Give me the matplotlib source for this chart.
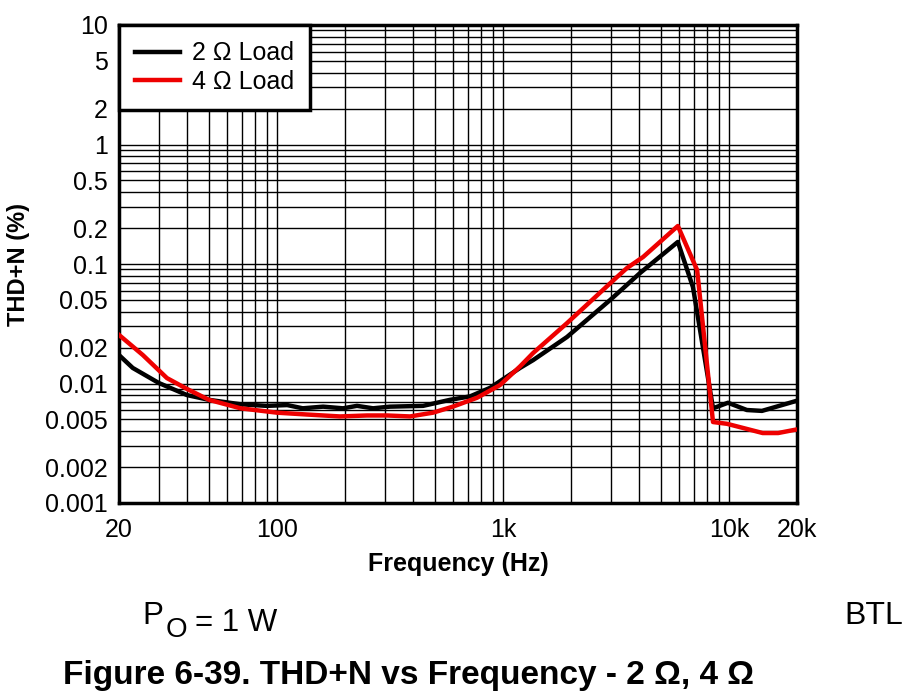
import numpy as np
import matplotlib.pyplot as plt
import matplotlib as mpl
from matplotlib.ticker import FixedLocator, FixedFormatter, LogLocator, NullFormatter

mpl.rcParams['font.family'] = ['Liberation Sans', 'DejaVu Sans']

# 2 ohm load
freq_2 = [20, 23, 30, 40, 50, 69, 90, 111, 130, 160, 196, 226, 266, 316, 443, 583, 715,
          877, 1190, 1360, 1920, 2980, 4040, 5940, 6930, 8500, 9900, 12000, 14000, 19600]
thd_2 = [0.0173, 0.0135, 0.0101, 0.0080, 0.0073, 0.0067, 0.0065, 0.0066, 0.0062, 0.0064,
         0.0062, 0.0065, 0.0062, 0.0064, 0.0065, 0.0073, 0.0078, 0.0092, 0.0135, 0.0157,
         0.0245, 0.050, 0.084, 0.153, 0.064, 0.0062, 0.0069, 0.0060, 0.0059, 0.0071]

# 4 ohm load
freq_4 = [20, 25.5, 32.6, 40, 50, 69, 100, 136, 190, 250, 307, 388, 490, 600, 768, 970,
          1190, 1360, 1920, 3200, 3540, 4170, 5940, 7230, 8500, 9800, 14100, 16500, 19600]
thd_4 = [0.0255, 0.0173, 0.0111, 0.0090, 0.0073, 0.0062, 0.0057, 0.0055, 0.0053, 0.0054,
         0.0054, 0.0053, 0.0057, 0.0064, 0.0076, 0.0097, 0.0139, 0.018, 0.032, 0.078,
         0.0926, 0.1145, 0.208, 0.089, 0.00476, 0.0046, 0.00385, 0.00385, 0.0041]

x_ticks = [20, 100, 1000, 10000, 20000]
x_labels = ['20', '100', '1k', '10k', '20k']
y_ticks = [10, 5, 2, 1, 0.5, 0.2, 0.1, 0.05, 0.02, 0.01, 0.005, 0.002, 0.001]
y_labels = ['10', '5', '2', '1', '0.5', '0.2', '0.1', '0.05', '0.02', '0.01', '0.005', '0.002', '0.001']

fig = plt.figure(figsize=(9.11, 6.94), dpi=100)
ax = fig.add_axes([119 / 911, 1 - 503 / 694, 678 / 911, 478 / 694])

ax.plot(freq_2, thd_2, color='black', lw=3.2, label='2 \u03a9 Load', zorder=3)
ax.plot(freq_4, thd_4, color='#ee0000', lw=3.2, label='4 \u03a9 Load', zorder=3)

ax.set_xscale('log')
ax.set_yscale('log')
ax.set_xlim(20, 20000)
ax.set_ylim(0.001, 10)

ax.xaxis.set_major_locator(FixedLocator(x_ticks))
ax.xaxis.set_major_formatter(FixedFormatter(x_labels))
ax.yaxis.set_major_locator(FixedLocator(y_ticks))
ax.yaxis.set_major_formatter(FixedFormatter(y_labels))
ax.xaxis.set_minor_locator(LogLocator(base=10, subs=np.arange(1, 10), numticks=20))
ax.yaxis.set_minor_locator(LogLocator(base=10, subs=np.arange(1, 10), numticks=20))
ax.xaxis.set_minor_formatter(NullFormatter())
ax.yaxis.set_minor_formatter(NullFormatter())

ax.grid(which='both', color='black', lw=1.0)
ax.set_axisbelow(True)
ax.tick_params(which='both', length=0, labelsize=18)
ax.tick_params(axis='x', pad=11)
ax.tick_params(axis='y', pad=8)
for s in ax.spines.values():
    s.set_linewidth(2.5)

ax.set_xlabel('Frequency (Hz)', fontsize=18, fontweight='bold', labelpad=7)
ax.set_ylabel('THD+N (%)', fontsize=17, fontweight='bold', labelpad=11)

leg = ax.legend(loc='upper left', borderaxespad=0, fontsize=18, fancybox=False,
                framealpha=1, edgecolor='black', handlelength=1.8, handletextpad=0.45,
                borderpad=0.65, labelspacing=0.18)
leg.get_frame().set_linewidth(2.5)
leg.set_zorder(5)

# notes under the chart
t1 = fig.text(142 / 911, 1 - 624 / 694, 'P', fontsize=22.5, va='baseline')
ax.annotate('O', xy=(1, 0), xycoords=t1, xytext=(3, -6), textcoords='offset pixels',
            fontsize=20, va='baseline', annotation_clip=False)
ax.annotate('= 1 W', xy=(1, 0), xycoords=t1, xytext=(32, 0), textcoords='offset pixels',
            fontsize=22.5, va='baseline', annotation_clip=False)
fig.text(903 / 911, 1 - 624 / 694, 'BTL', fontsize=23, ha='right', va='baseline')
fig.text(63 / 911, 1 - 684 / 694, 'Figure 6-39. THD+N vs Frequency - 2 \u03a9, 4 \u03a9',
         fontsize=24, fontweight='bold', va='baseline')

fig.savefig('out.png', dpi=100)
